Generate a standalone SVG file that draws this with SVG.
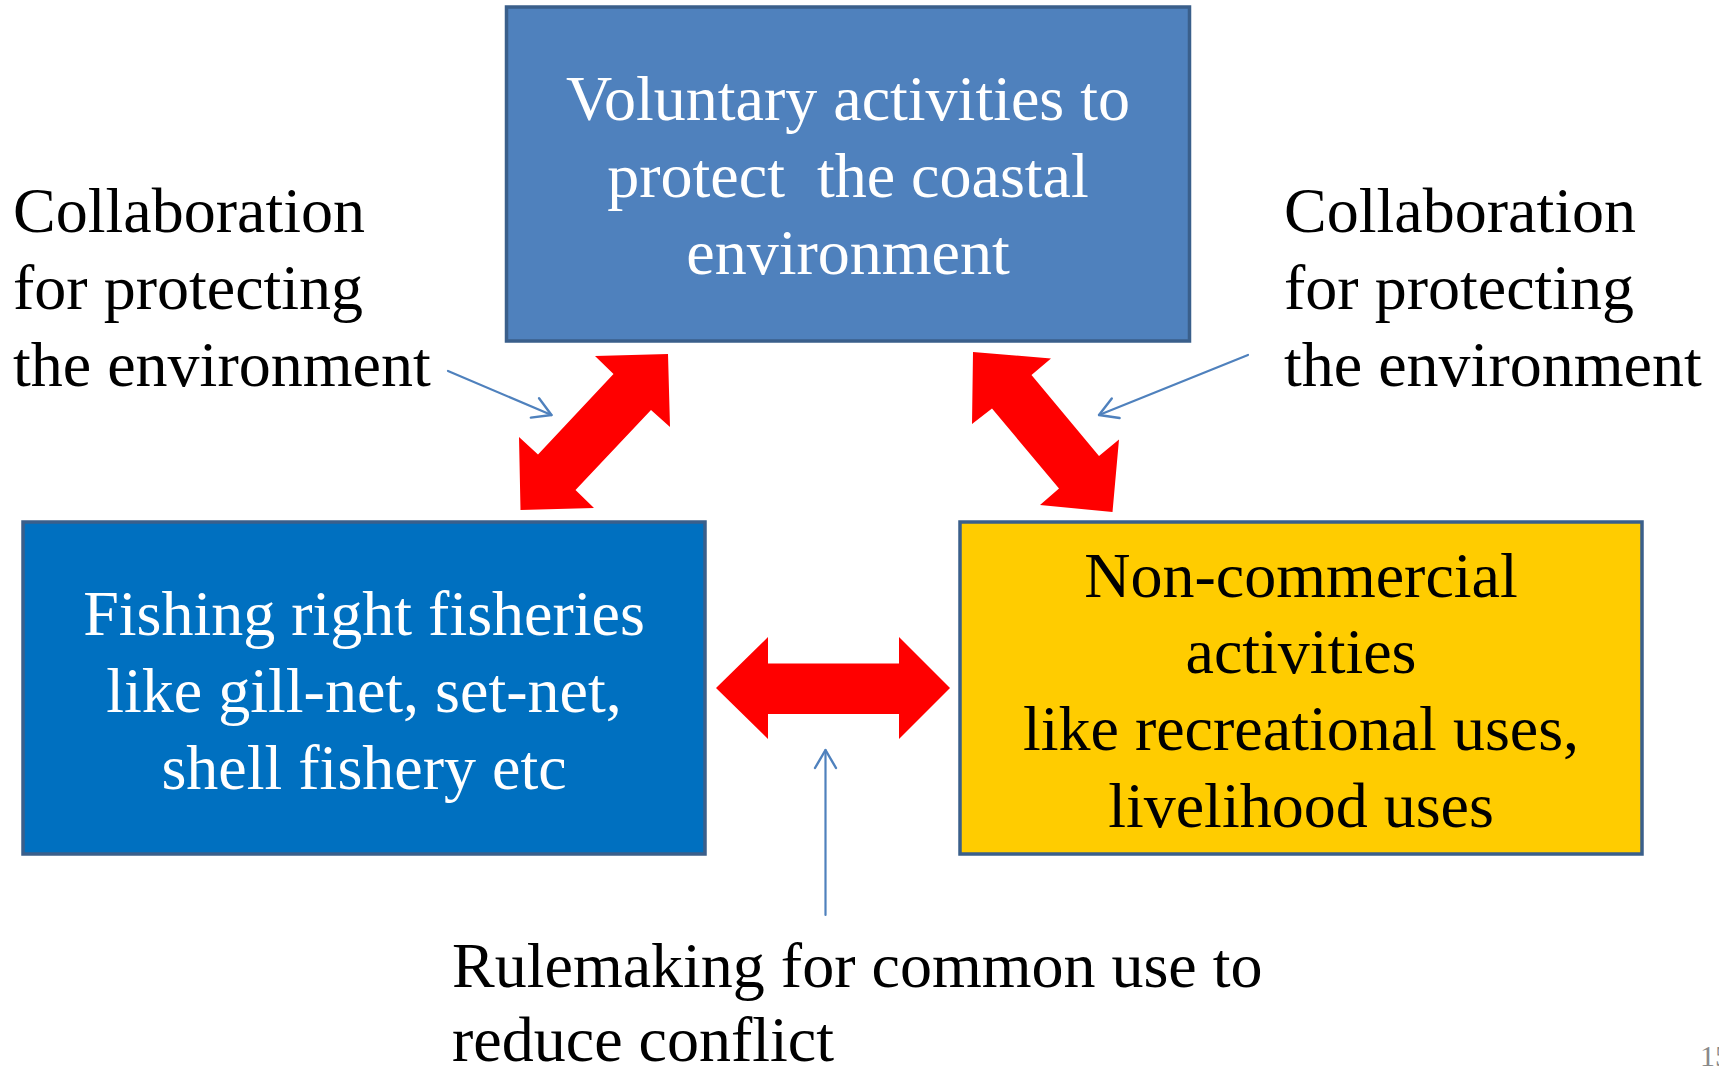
<svg xmlns="http://www.w3.org/2000/svg" width="1719" height="1066" viewBox="0 0 1719 1066">
<style>
  .t { font-family: "Liberation Serif", "Times New Roman", serif; font-size: 64px; }
  .c { text-anchor: middle; }
  .w { fill: #ffffff; }
  .k { fill: #000000; }
  .box { stroke: #3A5F8B; stroke-width: 3.5; }
  .red { fill: #FF0000; }
  .blue { fill: none; stroke: #4F81BD; stroke-width: 2.2; stroke-linecap: round; stroke-linejoin: round; }
</style>
<defs>
  <marker id="open" markerUnits="userSpaceOnUse" markerWidth="40" markerHeight="40" viewBox="-20 -20 40 40" refX="0" refY="0" orient="auto">
    <path d="M -18 -10.5 L 0 0 L -18 10.5" fill="none" stroke="#4F81BD" stroke-width="2.4" stroke-linecap="round" stroke-linejoin="round"/>
  </marker>
</defs>
<rect width="1719" height="1066" fill="#ffffff"/>

<g id="node-voluntary">
  <rect class="box" x="506.5" y="7" width="683" height="334" fill="#4F81BD"/>
  <text class="t c w" x="848" y="120">Voluntary activities to</text>
  <text class="t c w" x="848" y="197" xml:space="preserve">protect  the coastal</text>
  <text class="t c w" x="848" y="274">environment</text>
</g>

<g id="node-fishing">
  <rect class="box" x="23" y="522" width="682" height="332" fill="#0070C0"/>
  <text class="t c w" x="364" y="635">Fishing right fisheries</text>
  <text class="t c w" x="364" y="712">like gill-net, set-net,</text>
  <text class="t c w" x="364" y="789">shell fishery etc</text>
</g>

<g id="node-noncommercial">
  <rect class="box" x="960" y="522" width="682" height="332" fill="#FFCC00"/>
  <text class="t c k" x="1301" y="597">Non-commercial</text>
  <text class="t c k" x="1301" y="673">activities</text>
  <text class="t c k" x="1301" y="750">like recreational uses,</text>
  <text class="t c k" x="1301" y="827">livelihood uses</text>
</g>

<g id="label-collab-left">
  <text class="t k" x="13" y="232">Collaboration</text>
  <text class="t k" x="13" y="309">for protecting</text>
  <text class="t k" x="13" y="386">the environment</text>
</g>

<g id="label-collab-right">
  <text class="t k" x="1284" y="232">Collaboration</text>
  <text class="t k" x="1284" y="309">for protecting</text>
  <text class="t k" x="1284" y="386">the environment</text>
</g>

<g id="label-rulemaking">
  <text class="t k" x="452" y="987">Rulemaking for common use to</text>
  <text class="t k" x="452" y="1061">reduce conflict</text>
</g>

<g id="connectors">
  <polygon class="red" points="595,356 668,354 670,427 651,410 575.5,490 594,508 520.5,510 519,437 538,454.5 613.5,374"/>
  <polygon class="red" points="973,352 1051,358.5 1031.5,375 1099,456 1119,439.5 1112.5,512 1040,505 1059,488.5 992,408.5 972,424"/>
  <polygon class="red" points="716,688 768,637 768,663.5 899,663.5 899,637 950,688 899,739 899,714 768,714 768,739"/>
  <line class="blue" x1="448" y1="371" x2="551.5" y2="415" marker-end="url(#open)"/>
  <line class="blue" x1="1248" y1="355" x2="1099" y2="415" marker-end="url(#open)"/>
  <line class="blue" x1="825.5" y1="915" x2="825.5" y2="750" marker-end="url(#open)"/>
</g>

<text x="1700" y="1066" font-family="Liberation Serif, serif" font-size="30" fill="#898989">15</text>
</svg>
